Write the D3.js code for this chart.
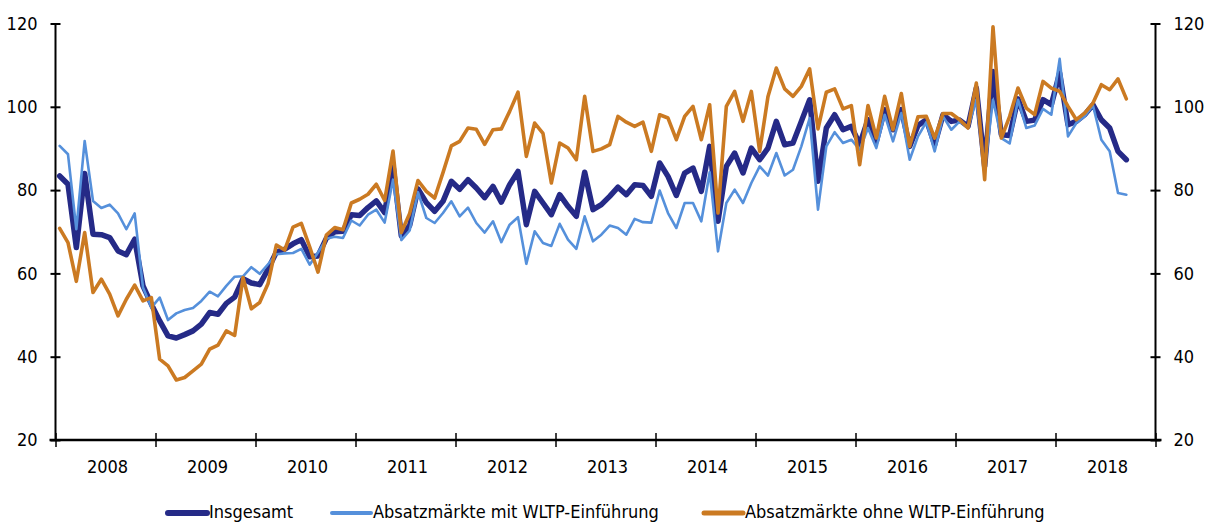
<!DOCTYPE html>
<html>
<head>
<meta charset="utf-8">
<script src="https://cdn.jsdelivr.net/npm/d3@7"></script>
<style>
  body { margin: 0; background: #fff; }
  svg text { font-family: "DejaVu Sans", sans-serif; font-stretch: condensed; fill: #000; }
</style>
</head>
<body>
<div id="chart"></div>
<script>
// Monatswerte Jan 2008 - Sep 2018
var years = [2008, 2009, 2010, 2011, 2012, 2013, 2014, 2015, 2016, 2017, 2018];
var yTicks = [20, 40, 60, 80, 100, 120];
var seriesNames = ["Insgesamt", "Absatzmärkte mit WLTP-Einführung", "Absatzmärkte ohne WLTP-Einführung"];

var insgesamt = [
  83.4, 81.4, 66.2, 84.0, 69.4, 69.3, 68.6, 65.4, 64.5, 68.2, 57.0, 52.6,
  48.6, 45.0, 44.5, 45.3, 46.2, 47.8, 50.6, 50.2, 52.8, 54.3, 58.7, 57.7,
  57.3, 61.0, 65.1, 65.8, 67.1, 68.1, 64.0, 64.2, 68.4, 70.0, 70.1, 74.1,
  73.9, 75.8, 77.4, 74.6, 86.0, 69.0, 71.5, 80.3, 77.0, 74.9, 77.3, 82.1,
  80.2, 82.5, 80.5, 78.2, 80.9, 77.1, 81.3, 84.5, 71.7, 79.7, 76.9, 74.1,
  78.9, 76.1, 73.7, 84.3, 75.3, 76.5, 78.5, 80.7, 78.9, 81.3, 81.1, 78.5,
  86.5, 83.3, 78.7, 84.1, 85.3, 79.7, 90.5, 72.5, 85.7, 88.9, 84.1, 90.1,
  87.3, 90.1, 96.5, 90.9, 91.3, 96.5, 101.7, 82.1, 94.9, 98.1, 94.5, 95.3,
  91.0, 96.9, 91.7, 99.3, 94.5, 99.3, 90.5, 95.5, 96.9, 90.9, 98.1, 96.5,
  96.8, 95.3, 104.5, 85.7, 108.5, 93.3, 93.1, 101.9, 96.5, 96.8, 101.7, 100.5,
  108.1, 95.7, 96.5, 98.1, 100.5, 96.9, 94.9, 89.3, 87.3
];

var mitWltp = [
  90.6, 88.6, 70.6, 91.8, 77.4, 75.7, 76.5, 74.4, 70.6, 74.4, 56.6, 51.8,
  54.2, 48.8, 50.4, 51.2, 51.7, 53.4, 55.6, 54.5, 57.0, 59.2, 59.3, 61.5,
  59.9, 62.2, 64.6, 64.8, 64.9, 65.9, 62.1, 65.0, 68.3, 68.8, 68.5, 72.7,
  71.5, 74.1, 75.3, 72.2, 82.5, 68.0, 70.3, 79.5, 73.3, 72.1, 74.5, 77.3,
  73.7, 75.8, 72.1, 69.8, 72.5, 67.5, 71.7, 73.5, 62.3, 70.1, 67.3, 66.6,
  71.9, 68.1, 65.9, 73.7, 67.7, 69.3, 71.5, 70.9, 69.3, 73.1, 72.3, 72.2,
  79.9, 74.5, 70.9, 76.9, 76.9, 72.5, 84.3, 65.3, 76.9, 80.1, 76.9, 81.7,
  85.7, 83.5, 88.9, 83.5, 84.9, 90.5, 97.3, 75.3, 90.5, 93.9, 91.3, 92.1,
  89.7, 94.9, 90.1, 98.1, 91.7, 98.5, 87.3, 92.9, 96.3, 89.3, 97.7, 94.5,
  96.5, 94.9, 101.7, 84.9, 101.7, 92.5, 91.2, 101.7, 94.9, 95.5, 99.5, 98.1,
  111.5, 92.9, 96.1, 97.7, 100.3, 92.1, 89.3, 79.3, 78.9
];

var ohneWltp = [
  70.8, 67.4, 58.1, 69.8, 55.4, 58.6, 55.0, 49.8, 53.8, 57.2, 53.4, 54.2,
  39.4, 37.8, 34.4, 35.0, 36.6, 38.2, 41.8, 42.8, 46.2, 45.1, 59.0, 51.5,
  53.0, 57.5, 66.8, 65.6, 71.1, 72.0, 66.4, 60.3, 69.2, 71.0, 70.5, 76.9,
  77.8, 79.0, 81.4, 77.5, 89.4, 69.8, 74.4, 82.3, 79.7, 78.1, 84.2, 90.6,
  91.7, 94.9, 94.6, 91.0, 94.5, 94.7, 98.9, 103.5, 88.1, 96.1, 93.6, 81.7,
  91.3, 90.1, 87.3, 102.5, 89.3, 89.9, 90.9, 97.7, 96.3, 95.3, 96.3, 89.3,
  98.1, 97.3, 92.1, 97.7, 100.1, 92.1, 100.5, 74.5, 100.1, 103.7, 96.5, 103.7,
  89.3, 102.5, 109.3, 104.3, 102.5, 104.9, 109.1, 94.7, 103.5, 104.3, 99.5, 100.3,
  86.1, 100.3, 92.5, 102.5, 94.5, 103.2, 90.5, 97.6, 97.7, 92.5, 98.4, 98.4,
  96.9, 94.9, 105.7, 82.5, 119.2, 92.5, 97.7, 104.5, 99.7, 98.1, 106.1, 104.5,
  103.7, 100.1, 96.9, 98.5, 100.9, 105.3, 104.1, 106.7, 101.9
];

var colors = ["#252a87", "#5590db", "#cb7a22"];
var widths = [5.5, 2.6, 3.6];

var svgWidth = 1212;
var svgHeight = 522;
var plotLeft = 55.5, plotRight = 1155.5, plotTop = 23.5, plotBottom = 440;
var fontSize = 18;

var svg = d3.select("#chart").append("svg")
  .attr("width", svgWidth)
  .attr("height", svgHeight);

// Monate als Kategorien (132 Monate auf der Achse)
var months = d3.range(years.length * 12);
var x = d3.scaleBand().domain(months).range([plotLeft, plotRight]);
var xYear = d3.scaleLinear().domain([years[0], years[years.length - 1] + 1]).range([plotLeft, plotRight]);
var y = d3.scaleLinear().domain([20, 120]).range([plotBottom, plotTop]);

// Linien
var line = d3.line()
  .x(function (d, i) { return x(i) + x.bandwidth() / 2; })
  .y(function (d) { return y(d); });

var allSeries = [insgesamt, mitWltp, ohneWltp];
allSeries.forEach(function (s, k) {
  svg.append("path")
    .datum(s)
    .attr("fill", "none")
    .attr("stroke", colors[k])
    .attr("stroke-width", widths[k])
    .attr("stroke-linejoin", "round")
    .attr("stroke-linecap", "round")
    .attr("d", line);
});

// Achse links
var gLeft = svg.append("g")
  .attr("transform", "translate(" + plotLeft + ",0)")
  .call(d3.axisLeft(y).tickValues(yTicks).tickSize(5).tickPadding(13));
gLeft.select(".domain").attr("stroke", "#000").attr("stroke-width", 2).attr("d", "M0," + plotTop + "V" + plotBottom);
gLeft.selectAll(".tick line").attr("x1", 5).attr("x2", -5).attr("stroke", "#000").attr("stroke-width", 2);
gLeft.selectAll("text").attr("font-size", fontSize).attr("fill", "#000");

// Achse rechts
var gRight = svg.append("g")
  .attr("transform", "translate(" + plotRight + ",0)")
  .call(d3.axisRight(y).tickValues(yTicks).tickSize(5).tickPadding(13));
gRight.select(".domain").attr("stroke", "#000").attr("stroke-width", 2).attr("d", "M0," + plotTop + "V" + plotBottom);
gRight.selectAll(".tick line").attr("x1", -5).attr("x2", 5).attr("stroke", "#000").attr("stroke-width", 2);
gRight.selectAll("text").attr("font-size", fontSize).attr("fill", "#000");

// x-Achse
var gBottom = svg.append("g")
  .attr("transform", "translate(0," + plotBottom + ")")
  .call(d3.axisBottom(xYear).tickValues(d3.range(years[0], years[years.length - 1] + 2)).tickSize(6).tickFormat(""));
gBottom.select(".domain").attr("stroke", "#000").attr("stroke-width", 2.5).attr("d", "M" + (plotLeft - 6) + ",0H" + (plotRight + 6));
gBottom.selectAll(".tick line").attr("y1", -7).attr("y2", 7).attr("stroke", "#000").attr("stroke-width", 1.5);

svg.append("g").selectAll("text")
  .data(years)
  .enter()
  .append("text")
  .attr("x", function (d) { return xYear(d + 0.5) + 2; })
  .attr("y", 473)
  .attr("text-anchor", "middle")
  .attr("font-size", fontSize)
  .text(function (d) { return d; });

// Legende
var legendX = [166, 330, 702];
var legend = svg.append("g").selectAll("g")
  .data(seriesNames)
  .enter()
  .append("g")
  .attr("transform", function (d, i) { return "translate(" + legendX[i] + ",513)"; });

legend.append("line")
  .attr("x1", 2).attr("x2", 41)
  .attr("stroke", function (d, i) { return colors[i]; })
  .attr("stroke-width", function (d, i) { return [6, 4, 5][i]; })
  .attr("stroke-linecap", "round");

legend.append("text")
  .attr("x", 43)
  .attr("y", 5)
  .attr("font-size", fontSize)
  .text(function (d) { return d; });
</script>
</body>
</html>
